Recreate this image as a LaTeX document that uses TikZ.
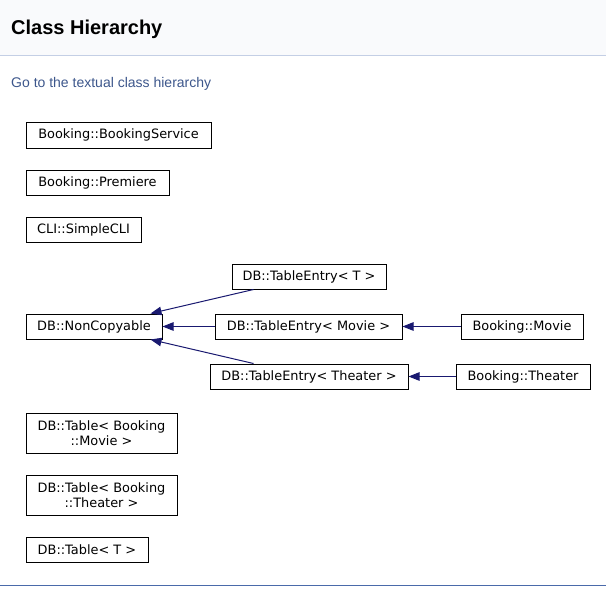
\documentclass[tikz,border=0pt]{standalone}
\usepackage{fontspec}
\setmainfont{Liberation Sans}
\newfontfamily\dvfont{DejaVu Sans}
\usetikzlibrary{arrows.meta,calc}
\definecolor{hdrbg}{HTML}{F9FAFC}
\definecolor{hdrline}{HTML}{C4CFE5}
\definecolor{linkcol}{HTML}{3D578C}
\definecolor{footline}{HTML}{4A6AAA}
\definecolor{edgecol}{HTML}{191970}
\tikzset{
  cls/.style={draw=black, line width=1pt, fill=white, inner sep=0pt, align=center,
    font=\dvfont\fontsize{12.9}{15}\selectfont, text=black},
  inh/.style={draw=edgecol, line width=1pt, -{Triangle[length=11pt,width=8.5pt]}},
}
\begin{document}
\begin{tikzpicture}[x=1pt,y=-1pt]
\useasboundingbox (0,0) rectangle (606,615);
\fill[white] (0,0) rectangle (606,615);
% header
\fill[hdrbg] (0,0) rectangle (606,56);
\draw[hdrline, line width=1pt] (0,56) -- (606,56);
\node[anchor=base west, inner sep=0pt, font=\bfseries\fontsize{20}{24}\selectfont] (title) at (11,34.5) {Class Hierarchy};
\node[anchor=base west, inner sep=0pt, text=linkcol, font=\fontsize{14}{17}\selectfont] (link) at (11,87.5) {Go to the textual class hierarchy};
% footer line
\draw[footline, line width=1pt] (0,585) -- (606,585);
% classes
\node[cls, minimum width=185, minimum height=26] (bs) at (118.5,135) {Booking::BookingService};
\node[cls, minimum width=143, minimum height=25] (pr) at (97.5,182.5) {Booking::Premiere};
\node[cls, minimum width=115, minimum height=25] (cli) at (83.5,229.5) {CLI::SimpleCLI};
\node[cls, minimum width=154, minimum height=25] (tet) at (309,276.5) {DB::TableEntry< T >};
\node[cls, minimum width=136, minimum height=25] (nc) at (94,326.5) {DB::NonCopyable};
\node[cls, minimum width=187, minimum height=25] (tem) at (308.5,326.5) {DB::TableEntry< Movie >};
\node[cls, minimum width=122, minimum height=25] (mv) at (522,326.5) {Booking::Movie};
\node[cls, minimum width=198, minimum height=25] (teth) at (309,376.5) {DB::TableEntry< Theater >};
\node[cls, minimum width=134, minimum height=25] (th) at (523,376.5) {Booking::Theater};
\node[cls, minimum width=151, minimum height=40] (tbm) at (101.5,433) {DB::Table< Booking\\::Movie >};
\node[cls, minimum width=151, minimum height=40] (tbth) at (101.5,495) {DB::Table< Booking\\::Theater >};
\node[cls, minimum width=122, minimum height=25] (tbt) at (87,549.5) {DB::Table< T >};
% edges
\draw[inh] ($(tet.south west)+(22,0)$) -- ($(nc.north east)+(-12,0)$);
\draw[inh] (tem.west) -- (nc.east);
\draw[inh] ($(teth.north west)+(44,0)$) -- ($(nc.south east)+(-12,0)$);
\draw[inh] (mv.west) -- (tem.east);
\draw[inh] (th.west) -- (teth.east);
\end{tikzpicture}
\end{document}
